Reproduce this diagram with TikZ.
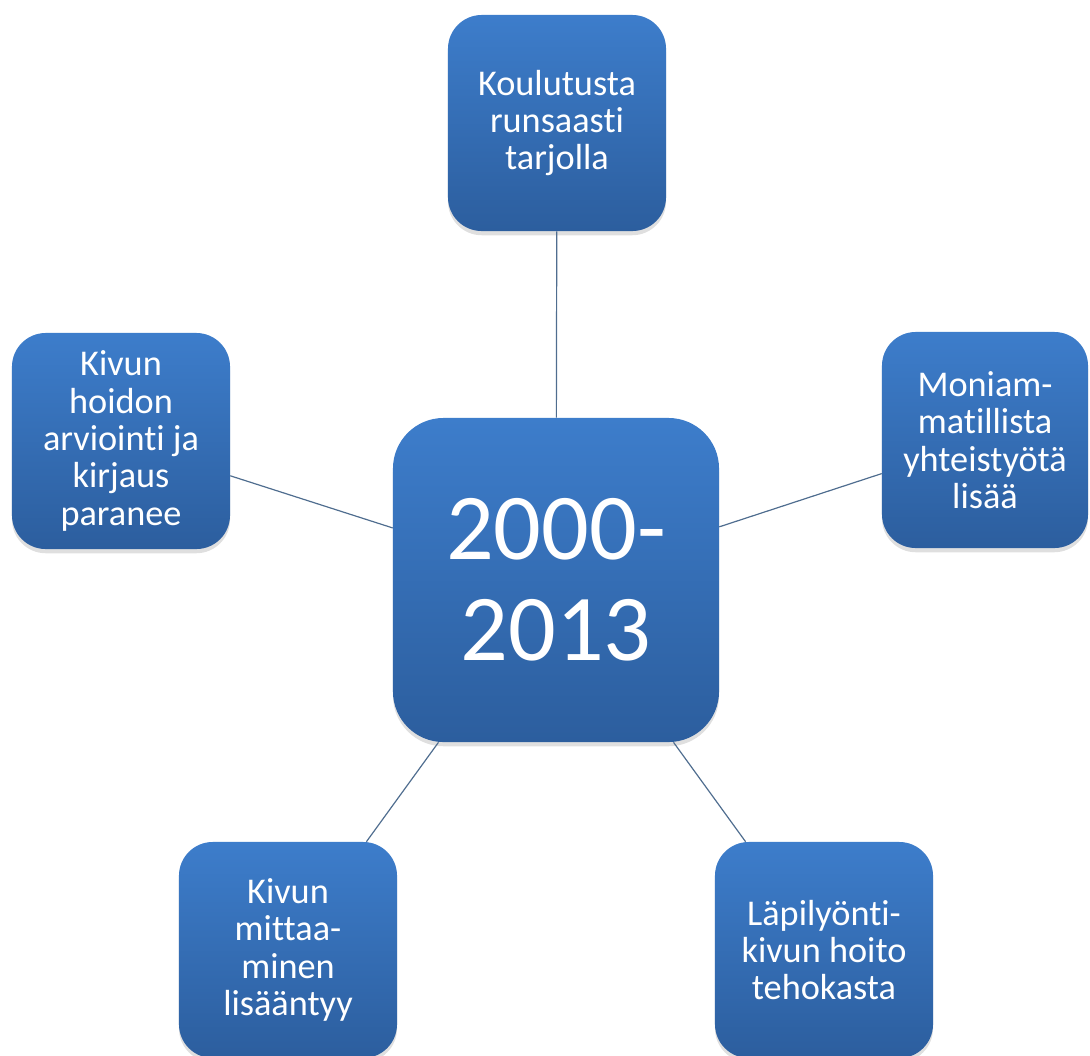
\documentclass[tikz,border=0pt]{standalone}
\usepackage{fontspec}
\setmainfont{Carlito}[Ligatures=CommonOff]
\usepackage{tikz}
\usetikzlibrary{shadows}

\begin{document}
\begin{tikzpicture}[x=0.025cm,y=-0.025cm,leaf/.style={rectangle,rounded corners=24pt,top color=blueTop,bottom color=blueBot,draw=none,text=white,align=center,minimum width=5.45cm,minimum height=5.4cm,inner sep=2pt,font=\fontsize{25.8}{26.6}\selectfont,drop shadow={opacity=0.25,shadow xshift=0pt,shadow yshift=-3pt}},hub/.style={leaf,rounded corners=36pt,minimum width=8.15cm,minimum height=8.1cm,font=\fontsize{67}{72}\selectfont},spoke/.style={draw=lineBlue,line width=0.85pt}]
\definecolor{blueTop}{HTML}{3D7DCB}
\definecolor{blueBot}{HTML}{2C5E9E}
\definecolor{lineBlue}{HTML}{4F6D8F}
\useasboundingbox (0,0) rectangle (1090,1055);
\node[hub] (hub) at (556,580) {2000-\\2013};
\node[leaf] (koulutus) at (557,123) {Koulutusta\\runsaasti\\tarjolla};
\node[leaf] (arviointi) at (121,441) {Kivun\\hoidon\\arviointi ja\\kirjaus\\paranee};
\node[leaf,minimum width=5.15cm] (yhteistyo) at (985,440) {Moniam-\\matillista\\yhteistyötä\\lisää};
\node[leaf] (mittaus) at (288,950) {Kivun\\mittaa-\\minen\\lisääntyy};
\node[leaf] (lapilyonti) at (824,950) {Läpilyönti-\\kivun hoito\\tehokasta};
\draw[spoke] (hub)--(koulutus);
\draw[spoke] (hub)--(arviointi);
\draw[spoke] (hub)--(yhteistyo);
\draw[spoke] (hub)--(mittaus);
\draw[spoke] (hub)--(lapilyonti);
\end{tikzpicture}
\end{document}
